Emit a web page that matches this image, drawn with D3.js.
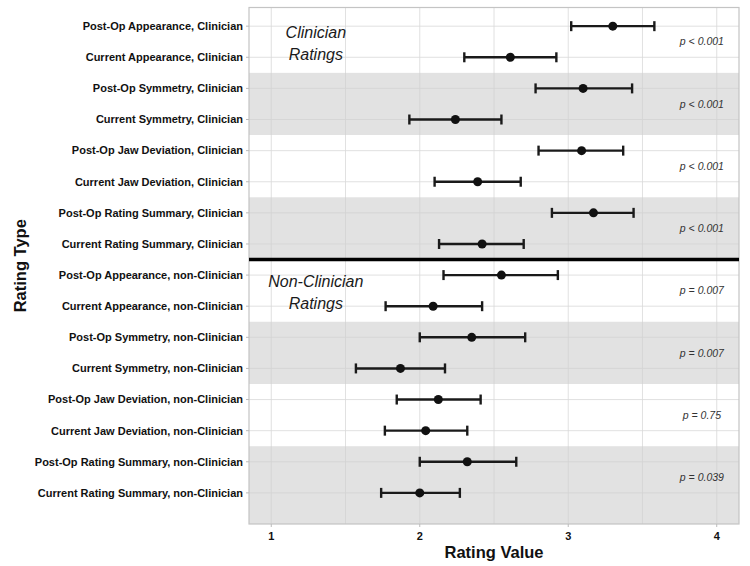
<!DOCTYPE html>
<html>
<head>
<meta charset="utf-8">
<script src="https://cdn.jsdelivr.net/npm/d3@7"></script>
<style>
  body { margin: 0; background: #fff; }
  svg { font-family: "Liberation Sans", Arial, sans-serif; }
</style>
</head>
<body>
<svg id="chart"></svg>
<script>
const width = 750;
const height = 566;

// Data
const ratingTypes = [
    "Post-Op Appearance, Clinician",
    "Current Appearance, Clinician",
    "Post-Op Symmetry, Clinician",
    "Current Symmetry, Clinician",
    "Post-Op Jaw Deviation, Clinician",
    "Current Jaw Deviation, Clinician",
    "Post-Op Rating Summary, Clinician",
    "Current Rating Summary, Clinician",
    "Post-Op Appearance, non-Clinician",
    "Current Appearance, non-Clinician",
    "Post-Op Symmetry, non-Clinician",
    "Current Symmetry, non-Clinician",
    "Post-Op Jaw Deviation, non-Clinician",
    "Current Jaw Deviation, non-Clinician",
    "Post-Op Rating Summary, non-Clinician",
    "Current Rating Summary, non-Clinician"
];
const means = [3.30, 2.61, 3.10, 2.24, 3.09, 2.39, 3.17, 2.42, 2.55, 2.09, 2.35, 1.87, 2.125, 2.04, 2.32, 2.00];
const lower = [3.02, 2.30, 2.78, 1.93, 2.80, 2.10, 2.89, 2.13, 2.16, 1.77, 2.00, 1.57, 1.845, 1.765, 2.00, 1.74];
const upper = [3.58, 2.92, 3.43, 2.55, 3.37, 2.68, 3.44, 2.70, 2.93, 2.42, 2.71, 2.17, 2.41, 2.32, 2.65, 2.27];
const pValues = ["p < 0.001", "p < 0.001", "p < 0.001", "p < 0.001", "p = 0.007", "p = 0.007", "p = 0.75", "p = 0.039"];
const xTicks = [1, 2, 3, 4];
const xMinor = [1.5, 2.5, 3.5];
const groupLabels = [
    { lines: ["Clinician", "Ratings"], row: 0 },
    { lines: ["Non-Clinician", "Ratings"], row: 8 }
];

const panel = { left: 249, right: 739, top: 7.5, bottom: 524 };

const svg = d3.select("#chart")
    .attr("width", width)
    .attr("height", height);

const x = d3.scaleLinear()
    .domain([0.85, 4.15])
    .range([panel.left, panel.right]);

const y = d3.scaleLinear()
    .domain([-0.6, 16])
    .range([panel.top, panel.bottom]);

// Alternating bands, one per pair of rows
const pairs = d3.range(pValues.length);
svg.append("g").selectAll("rect")
    .data(pairs)
    .join("rect")
    .attr("x", panel.left)
    .attr("width", panel.right - panel.left)
    .attr("y", k => y(Math.max(2 * k - 0.5, -0.6)))
    .attr("height", k => y(k === pairs.length - 1 ? 16 : 2 * k + 1.5) - y(Math.max(2 * k - 0.5, -0.6)))
    .attr("fill", k => k % 2 ? "#e2e2e2" : "#ffffff");

// Grid lines
const grid = svg.append("g").attr("stroke", "#d0d0d0").attr("stroke-width", 0.8).attr("opacity", 0.8);
grid.selectAll(".vmaj")
    .data(xTicks.concat(xMinor))
    .join("line")
    .attr("x1", d => x(d)).attr("x2", d => x(d))
    .attr("y1", panel.top).attr("y2", panel.bottom);
grid.selectAll(".h")
    .data(ratingTypes)
    .join("line")
    .attr("x1", panel.left).attr("x2", panel.right)
    .attr("y1", (d, i) => y(i)).attr("y2", (d, i) => y(i));

// Panel border
svg.append("rect")
    .attr("x", panel.left).attr("y", panel.top)
    .attr("width", panel.right - panel.left)
    .attr("height", panel.bottom - panel.top)
    .attr("fill", "none")
    .attr("stroke", "#c4c4c4")
    .attr("stroke-width", 1.2);

// Separator between clinician and non-clinician
svg.append("line")
    .attr("x1", panel.left).attr("x2", panel.right)
    .attr("y1", y(7.5)).attr("y2", y(7.5))
    .attr("stroke", "#000")
    .attr("stroke-width", 3.5);

// Error bars
const bars = svg.append("g").attr("stroke", "#1a1a1a").attr("stroke-width", 2.4);
bars.selectAll(".bar")
    .data(ratingTypes)
    .join("line")
    .attr("x1", (d, i) => x(lower[i])).attr("x2", (d, i) => x(upper[i]))
    .attr("y1", (d, i) => y(i)).attr("y2", (d, i) => y(i));
bars.selectAll(".capL")
    .data(ratingTypes)
    .join("line")
    .attr("x1", (d, i) => x(lower[i])).attr("x2", (d, i) => x(lower[i]))
    .attr("y1", (d, i) => y(i) - 5).attr("y2", (d, i) => y(i) + 5);
bars.selectAll(".capR")
    .data(ratingTypes)
    .join("line")
    .attr("x1", (d, i) => x(upper[i])).attr("x2", (d, i) => x(upper[i]))
    .attr("y1", (d, i) => y(i) - 5).attr("y2", (d, i) => y(i) + 5);

svg.append("g").selectAll("circle")
    .data(means)
    .join("circle")
    .attr("cx", d => x(d))
    .attr("cy", (d, i) => y(i))
    .attr("r", 4.5)
    .attr("fill", "#111");

// p-values
svg.append("g").selectAll("text")
    .data(pValues)
    .join("text")
    .attr("x", x(3.9))
    .attr("y", (d, k) => y(2 * k + 0.5))
    .attr("dy", "0.35em")
    .attr("text-anchor", "middle")
    .attr("font-size", 10.5)
    .attr("font-style", "italic")
    .attr("fill", "#333")
    .text(d => d);

// Group labels
groupLabels.forEach(g => {
    svg.append("text")
        .attr("x", x(1.3))
        .attr("text-anchor", "middle")
        .attr("font-size", 16)
        .attr("font-style", "italic")
        .attr("fill", "#1a1a1a")
        .selectAll("tspan")
        .data(g.lines)
        .join("tspan")
        .attr("x", x(1.3))
        .attr("y", (d, j) => y(g.row + 0.2 + j * 0.72))
        .attr("dy", "0.35em")
        .text(d => d);
});

// Y axis
const yAxis = svg.append("g");
yAxis.selectAll("line")
    .data(ratingTypes)
    .join("line")
    .attr("x1", panel.left - 3).attr("x2", panel.left)
    .attr("y1", (d, i) => y(i)).attr("y2", (d, i) => y(i))
    .attr("stroke", "#bbb");
yAxis.selectAll("text")
    .data(ratingTypes)
    .join("text")
    .attr("x", panel.left - 6)
    .attr("y", (d, i) => y(i))
    .attr("dy", "0.35em")
    .attr("text-anchor", "end")
    .attr("font-size", 11)
    .attr("font-weight", "bold")
    .attr("fill", "#111")
    .text(d => d);

// X axis
const xAxis = svg.append("g");
xAxis.selectAll("line")
    .data(xTicks)
    .join("line")
    .attr("x1", d => x(d)).attr("x2", d => x(d))
    .attr("y1", panel.bottom).attr("y2", panel.bottom + 3)
    .attr("stroke", "#bbb");
xAxis.selectAll("text")
    .data(xTicks)
    .join("text")
    .attr("x", d => x(d))
    .attr("y", panel.bottom + 12)
    .attr("dy", "0.35em")
    .attr("text-anchor", "middle")
    .attr("font-size", 11)
    .attr("font-weight", "bold")
    .attr("fill", "#111")
    .text(d => d);

// Axis titles
svg.append("text")
    .attr("x", (panel.left + panel.right) / 2)
    .attr("y", 552)
    .attr("dy", "0.35em")
    .attr("text-anchor", "middle")
    .attr("font-size", 16.5)
    .attr("font-weight", "bold")
    .attr("fill", "#111")
    .text("Rating Value");

svg.append("text")
    .attr("transform", `translate(20,${(panel.top + panel.bottom) / 2}) rotate(-90)`)
    .attr("dy", "0.35em")
    .attr("text-anchor", "middle")
    .attr("font-size", 16.5)
    .attr("font-weight", "bold")
    .attr("fill", "#111")
    .text("Rating Type");
</script>
</body>
</html>
